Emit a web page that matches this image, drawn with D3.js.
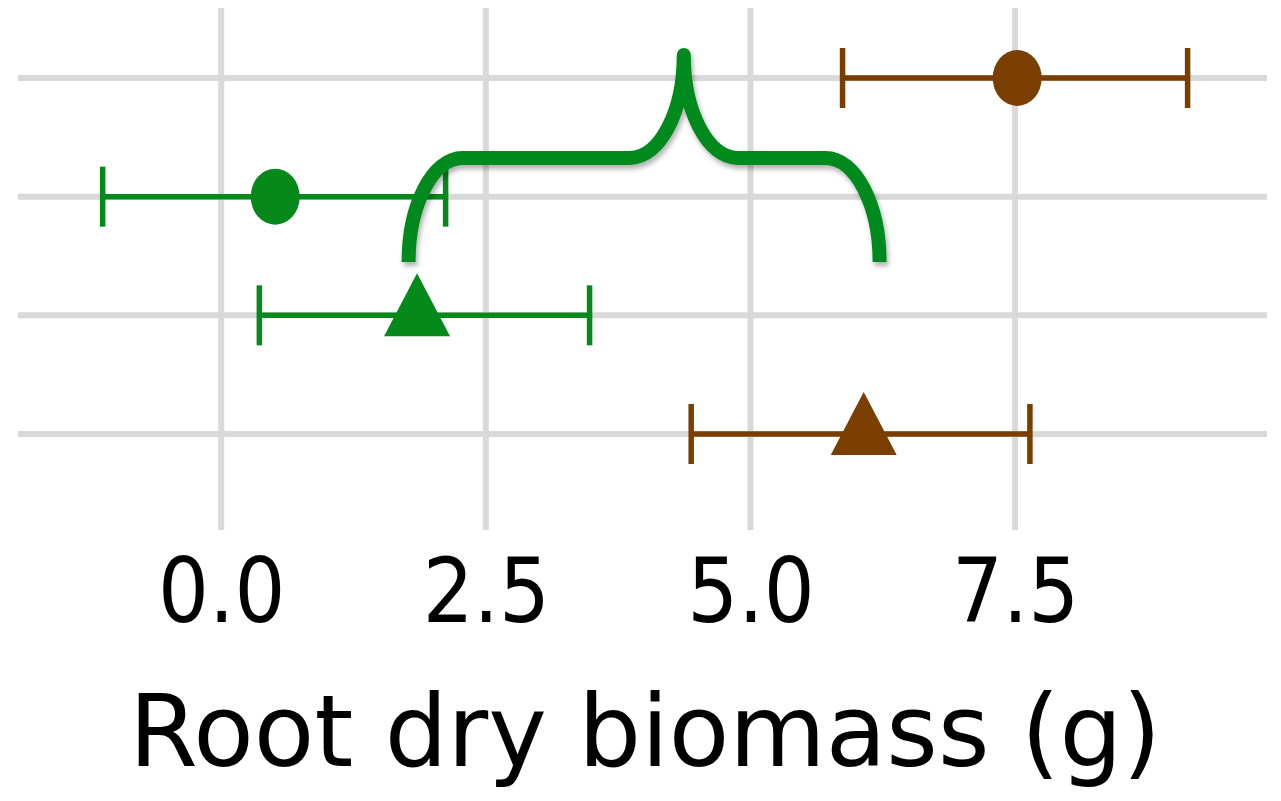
<!DOCTYPE html>
<html>
<head>
<meta charset="utf-8">
<script src="https://cdnjs.cloudflare.com/ajax/libs/d3/7.8.5/d3.min.js"></script>
<style>
  body { margin: 0; background: #ffffff; }
  text { font-family: "DejaVu Sans", sans-serif; fill: #000000; }
</style>
</head>
<body>
<div class="d3-div"></div>
<script>
// Rows top to bottom (no labels shown on the y-axis).
var rows = ["row1", "row2", "row3", "row4"];
// Mean root biomass and the interval ends.
var means = [7.52, 0.51, 1.85, 6.07];
var lower = [5.87, -1.12, 0.36, 4.44];
var upper = [9.13, 2.12, 3.48, 7.64];
// Group and marker of each row.
var groups = ["soil", "plant", "plant", "soil"];
var shapes = ["circle", "circle", "triangle", "triangle"];
// Tick values on the x-axis.
var xTicks = [0, 2.5, 5, 7.5];
var xTitle = "Root dry biomass (g)";
// Brace annotation: start, tip and end on the x-axis.
var braceX = [1.77, 4.37, 6.22];

var width = 1281;
var height = 801;
var colors = { soil: "#7a3e00", plant: "#04891a" };

var svg = d3.select(".d3-div")
    .append("svg")
    .attr("width", width)
    .attr("height", height);

// Scales
var x = d3.scaleLinear()
    .domain([-1.92, 9.88])
    .range([18, 1267]);

var y = d3.scalePoint()
    .domain(rows)
    .range([78, 434]);

// shadow for the brace
var defs = svg.append("defs");
defs.append("filter")
    .attr("id", "shadow")
    .attr("x", "-10%").attr("y", "-10%")
    .attr("width", "120%").attr("height", "130%")
    .append("feDropShadow")
    .attr("dx", 2).attr("dy", 4)
    .attr("stdDeviation", 2.5)
    .attr("flood-color", "#000")
    .attr("flood-opacity", 0.3);

// Grid lines
svg.append("g")
    .selectAll("line")
    .data(xTicks)
    .enter()
    .append("line")
    .attr("x1", d => x(d)).attr("x2", d => x(d))
    .attr("y1", 8).attr("y2", 530)
    .attr("stroke", "#d9d9d9")
    .attr("stroke-width", 6);

svg.append("g")
    .selectAll("line")
    .data(rows)
    .enter()
    .append("line")
    .attr("x1", 18).attr("x2", 1267)
    .attr("y1", d => y(d)).attr("y2", d => y(d))
    .attr("stroke", "#d9d9d9")
    .attr("stroke-width", 6);

// Error bars
var bars = svg.append("g")
    .selectAll("g")
    .data(rows)
    .enter()
    .append("g")
    .attr("stroke", (d, i) => colors[groups[i]])
    .attr("stroke-width", 5.5);

bars.append("line")
    .attr("x1", (d, i) => x(lower[i]))
    .attr("x2", (d, i) => x(upper[i]))
    .attr("y1", d => y(d)).attr("y2", d => y(d));

bars.append("line")
    .attr("x1", (d, i) => x(lower[i])).attr("x2", (d, i) => x(lower[i]))
    .attr("y1", d => y(d) - 30).attr("y2", d => y(d) + 30);

bars.append("line")
    .attr("x1", (d, i) => x(upper[i])).attr("x2", (d, i) => x(upper[i]))
    .attr("y1", d => y(d) - 30).attr("y2", d => y(d) + 30);

// Markers
rows.forEach(function(r, i) {
    var cx = x(means[i]);
    var cy = y(r);
    if (shapes[i] == "circle") {
        svg.append("ellipse")
            .attr("cx", cx).attr("cy", cy)
            .attr("rx", 24.5).attr("ry", 28)
            .attr("fill", colors[groups[i]]);
    } else {
        // triangle centred on its centroid
        svg.append("path")
            .attr("d", "M" + cx + "," + (cy - 42) +
                       "L" + (cx + 33) + "," + (cy + 21) +
                       "L" + (cx - 33) + "," + (cy + 21) + "Z")
            .attr("fill", colors[groups[i]]);
    }
});

// Curly brace between the rows
var xs = x(braceX[0]), xt = x(braceX[1]), xe = x(braceX[2]);
var yb = 262, yh = 158, yt = 55, r = 54, k = 0.5523;
var bracePath = d3.path();
bracePath.moveTo(xs, yb);
bracePath.bezierCurveTo(xs, yb - (yb - yh) * k, xs + r - r * k, yh, xs + r, yh);
bracePath.lineTo(xt - r, yh);
bracePath.bezierCurveTo(xt - r + r * k, yh, xt, yt + (yh - yt) * k, xt, yt);
bracePath.bezierCurveTo(xt, yt + (yh - yt) * k, xt + r - r * k, yh, xt + r, yh);
bracePath.lineTo(xe - r, yh);
bracePath.bezierCurveTo(xe - r + r * k, yh, xe, yb - (yb - yh) * k, xe, yb);

svg.append("path")
    .attr("d", bracePath.toString())
    .attr("fill", "none")
    .attr("stroke", colors.plant)
    .attr("stroke-width", 14)
    .attr("stroke-linejoin", "round")
    .attr("stroke-linecap", "butt")
    .attr("filter", "url(#shadow)");

// X axis (labels only)
var xAxis = d3.axisBottom(x)
    .tickValues(xTicks)
    .tickFormat(d3.format(".1f"))
    .tickSize(0)
    .tickPadding(0);

var xAxisPlot = svg.append("g")
    .attr("transform", "translate(0, 622)")
    .call(xAxis);
xAxisPlot.select(".domain").remove();
xAxisPlot.selectAll("text")
    .attr("dy", 0)
    .attr("y", 0)
    .attr("transform", "scale(0.9,1)")
    .style("font-family", "'DejaVu Sans', sans-serif")
    .style("font-size", "89px")
    .attr("fill", "#000");

// X title
svg.append("text")
    .attr("x", 645)
    .attr("y", 766)
    .attr("text-anchor", "middle")
    .style("font-size", "99px")
    .text(xTitle);
</script>
</body>
</html>
